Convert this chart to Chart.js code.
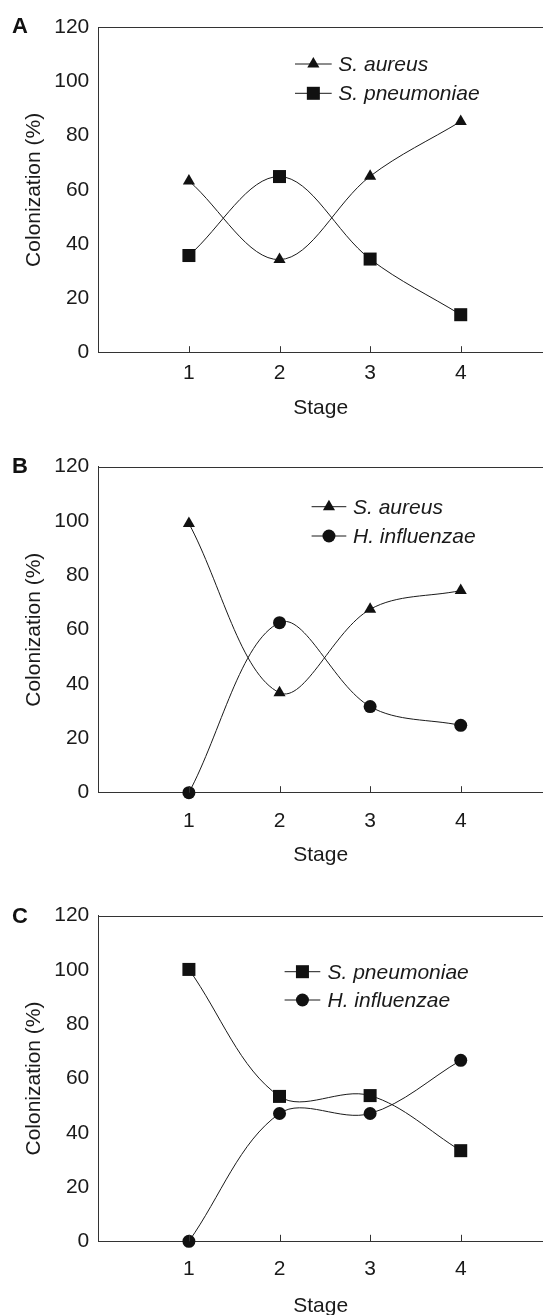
<!DOCTYPE html>
<html><head><meta charset="utf-8">
<script src="https://cdn.jsdelivr.net/npm/chart.js@4.4.1/dist/chart.umd.min.js"></script>
<style>
html,body{margin:0;padding:0;background:#fff;width:543px;height:1315px;overflow:hidden;position:relative;}
.panel{position:absolute;left:0;width:543px;}
.lab{position:absolute;left:12px;font:bold 22px "Liberation Sans",Arial,sans-serif;line-height:22px;color:#111;}
canvas{display:block;}
</style></head><body>
<div class="panel" style="top:0;height:440px"><canvas id="cA" width="543" height="440"></canvas></div>
<div class="panel" style="top:440px;height:435px"><canvas id="cB" width="543" height="435"></canvas></div>
<div class="panel" style="top:875px;height:460px"><canvas id="cC" width="543" height="460"></canvas></div>
<div class="lab" style="top:15px">A</div>
<div class="lab" style="top:455px">B</div>
<div class="lab" style="top:905px">C</div>
<script>
// ---- data ----
const stages = [1, 2, 3, 4];
const yTicks = [0, 20, 40, 60, 80, 100, 120];
const aureusA = [63.3, 34.3, 65, 85.2];
const pneumoA = [35.8, 64.9, 34.5, 14];
const aureusB = [99.1, 36.8, 67.5, 74.4];
const influB  = [0, 62.6, 31.7, 24.8];
const pneumoC = [100.2, 53.4, 53.7, 33.4];
const influC  = [0, 47.1, 47.1, 66.7];
const lblAureus = 'S. aureus';
const lblPneumo = 'S. pneumoniae';
const lblInflu  = 'H. influenzae';

const FONT = '"Liberation Sans", Arial, sans-serif';
const FS = 21;
const INK = '#1a1a1a';
const AXIS = '#333';

function pts(vals){ return stages.map((s,i)=>({x:s, y:vals[i]})); }

const markers = {
  tri:  {pointStyle:'triangle', pointRadius:7},
  sq:   {pointStyle:'rect', pointRadius:9.2},
  circ: {pointStyle:'circle', pointRadius:6.5}
};

function ds(label, vals, m){
  return Object.assign({
    label, data: pts(vals),
    borderColor: INK, borderWidth: 1,
    pointBackgroundColor: '#111', pointBorderColor: '#111', pointBorderWidth: 0,
    pointHoverRadius: markers[m].pointRadius,
    tension: 0.35, clip: false, fill: false
  }, markers[m]);
}

const framePlugin = {
  id: 'frame',
  afterDraw(chart){
    const {ctx, chartArea} = chart;
    const xs = chart.scales.x;
    ctx.save();
    ctx.strokeStyle = AXIS; ctx.lineWidth = 1;
    ctx.beginPath();
    ctx.moveTo(chartArea.left, Math.round(chartArea.top)+0.5);
    ctx.lineTo(chart.width, Math.round(chartArea.top)+0.5);
    stages.forEach(s=>{
      const px = Math.round(xs.getPixelForValue(s))+0.5;
      ctx.moveTo(px, chartArea.bottom);
      ctx.lineTo(px, chartArea.bottom-6.5);
    });
    ctx.stroke();
    ctx.restore();
  }
};

const legendPlugin = {
  id: 'custLegend',
  afterDatasetsDraw(chart, args, o){
    const ctx = chart.ctx;
    chart.data.datasets.forEach((d, i)=>{
      const yy = o.y + i*o.gap;
      ctx.save();
      ctx.strokeStyle = d.borderColor; ctx.lineWidth = 1;
      ctx.beginPath(); ctx.moveTo(o.x, yy); ctx.lineTo(o.x+o.len, yy); ctx.stroke();
      ctx.fillStyle = d.pointBackgroundColor; ctx.strokeStyle = d.pointBorderColor;
      Chart.helpers.drawPoint(ctx, {pointStyle:d.pointStyle, radius:d.pointRadius, borderWidth:0, rotation:0}, o.x+o.len/2, yy);
      ctx.fillStyle = INK;
      ctx.font = 'italic ' + FS + 'px ' + FONT;
      ctx.textBaseline = 'middle'; ctx.textAlign = 'left';
      ctx.fillText(d.label, o.x+o.len+o.tgap, yy+1);
      ctx.restore();
    });
  }
};

function makeChart(id, H, g, datasets, leg){
  return new Chart(document.getElementById(id), {
    type: 'line',
    data: {datasets},
    options: {
      responsive: false, animation: false, events: [],
      layout: {autoPadding: false, padding: {top: g.top, left: 0, right: 0, bottom: 0}},
      plugins: {legend: {display:false}, tooltip: {enabled:false}, custLegend: leg},
      scales: {
        x: {
          type: 'linear', min: 0, max: 4.908,
          afterBuildTicks(s){ s.ticks = stages.map(v=>({value:v})); },
          afterFit(s){ s.height = H - g.bottom; s.paddingLeft = 0; s.paddingRight = 0; },
          grid: {display:false, drawTicks:false},
          border: {display:true, color:AXIS, width:1},
          ticks: {padding: g.tickPad, color: INK, font:{family:FONT, size:FS}, maxRotation:0, autoSkip:false,
                  callback: v => String(v)},
          title: {display:true, text:'Stage', color: INK, font:{family:FONT, size:FS}, padding:{top:0, bottom:g.titlePad}}
        },
        y: {
          min: 0, max: 120,
          afterBuildTicks(s){ s.ticks = yTicks.map(v=>({value:v})); },
          afterFit(s){ s.width = 98.3; s.paddingTop = 0; s.paddingBottom = 0; },
          grid: {display:false, drawTicks:false},
          border: {display:true, color:AXIS, width:1},
          ticks: {padding: 9, color: INK, font:{family:FONT, size:FS}},
          title: {display:true, text:'Colonization (%)', color: INK, font:{family:FONT, size:FS}, padding:{top:22, bottom:0}}
        }
      }
    },
    plugins: [framePlugin, legendPlugin]
  });
}

makeChart('cA', 440, {top:27, bottom:352.7, tickPad:8, titlePad:19.2},
  [ds(lblAureus, aureusA, 'tri'), ds(lblPneumo, pneumoA, 'sq')],
  {x:295, len:36.7, tgap:6.6, y:64, gap:29.3});
makeChart('cB', 435, {top:26.7, bottom:352.7, tickPad:16.4, titlePad:7.5},
  [ds(lblAureus, aureusB, 'tri'), ds(lblInflu, influB, 'circ')],
  {x:311.6, len:34.7, tgap:6.7, y:66.7, gap:29.3});
makeChart('cC', 460, {top:40.7, bottom:366.3, tickPad:15.7, titlePad:15.8},
  [ds(lblPneumo, pneumoC, 'sq'), ds(lblInflu, influC, 'circ')],
  {x:284.6, len:35.7, tgap:7.2, y:96.7, gap:28.3});
</script>
</body></html>
